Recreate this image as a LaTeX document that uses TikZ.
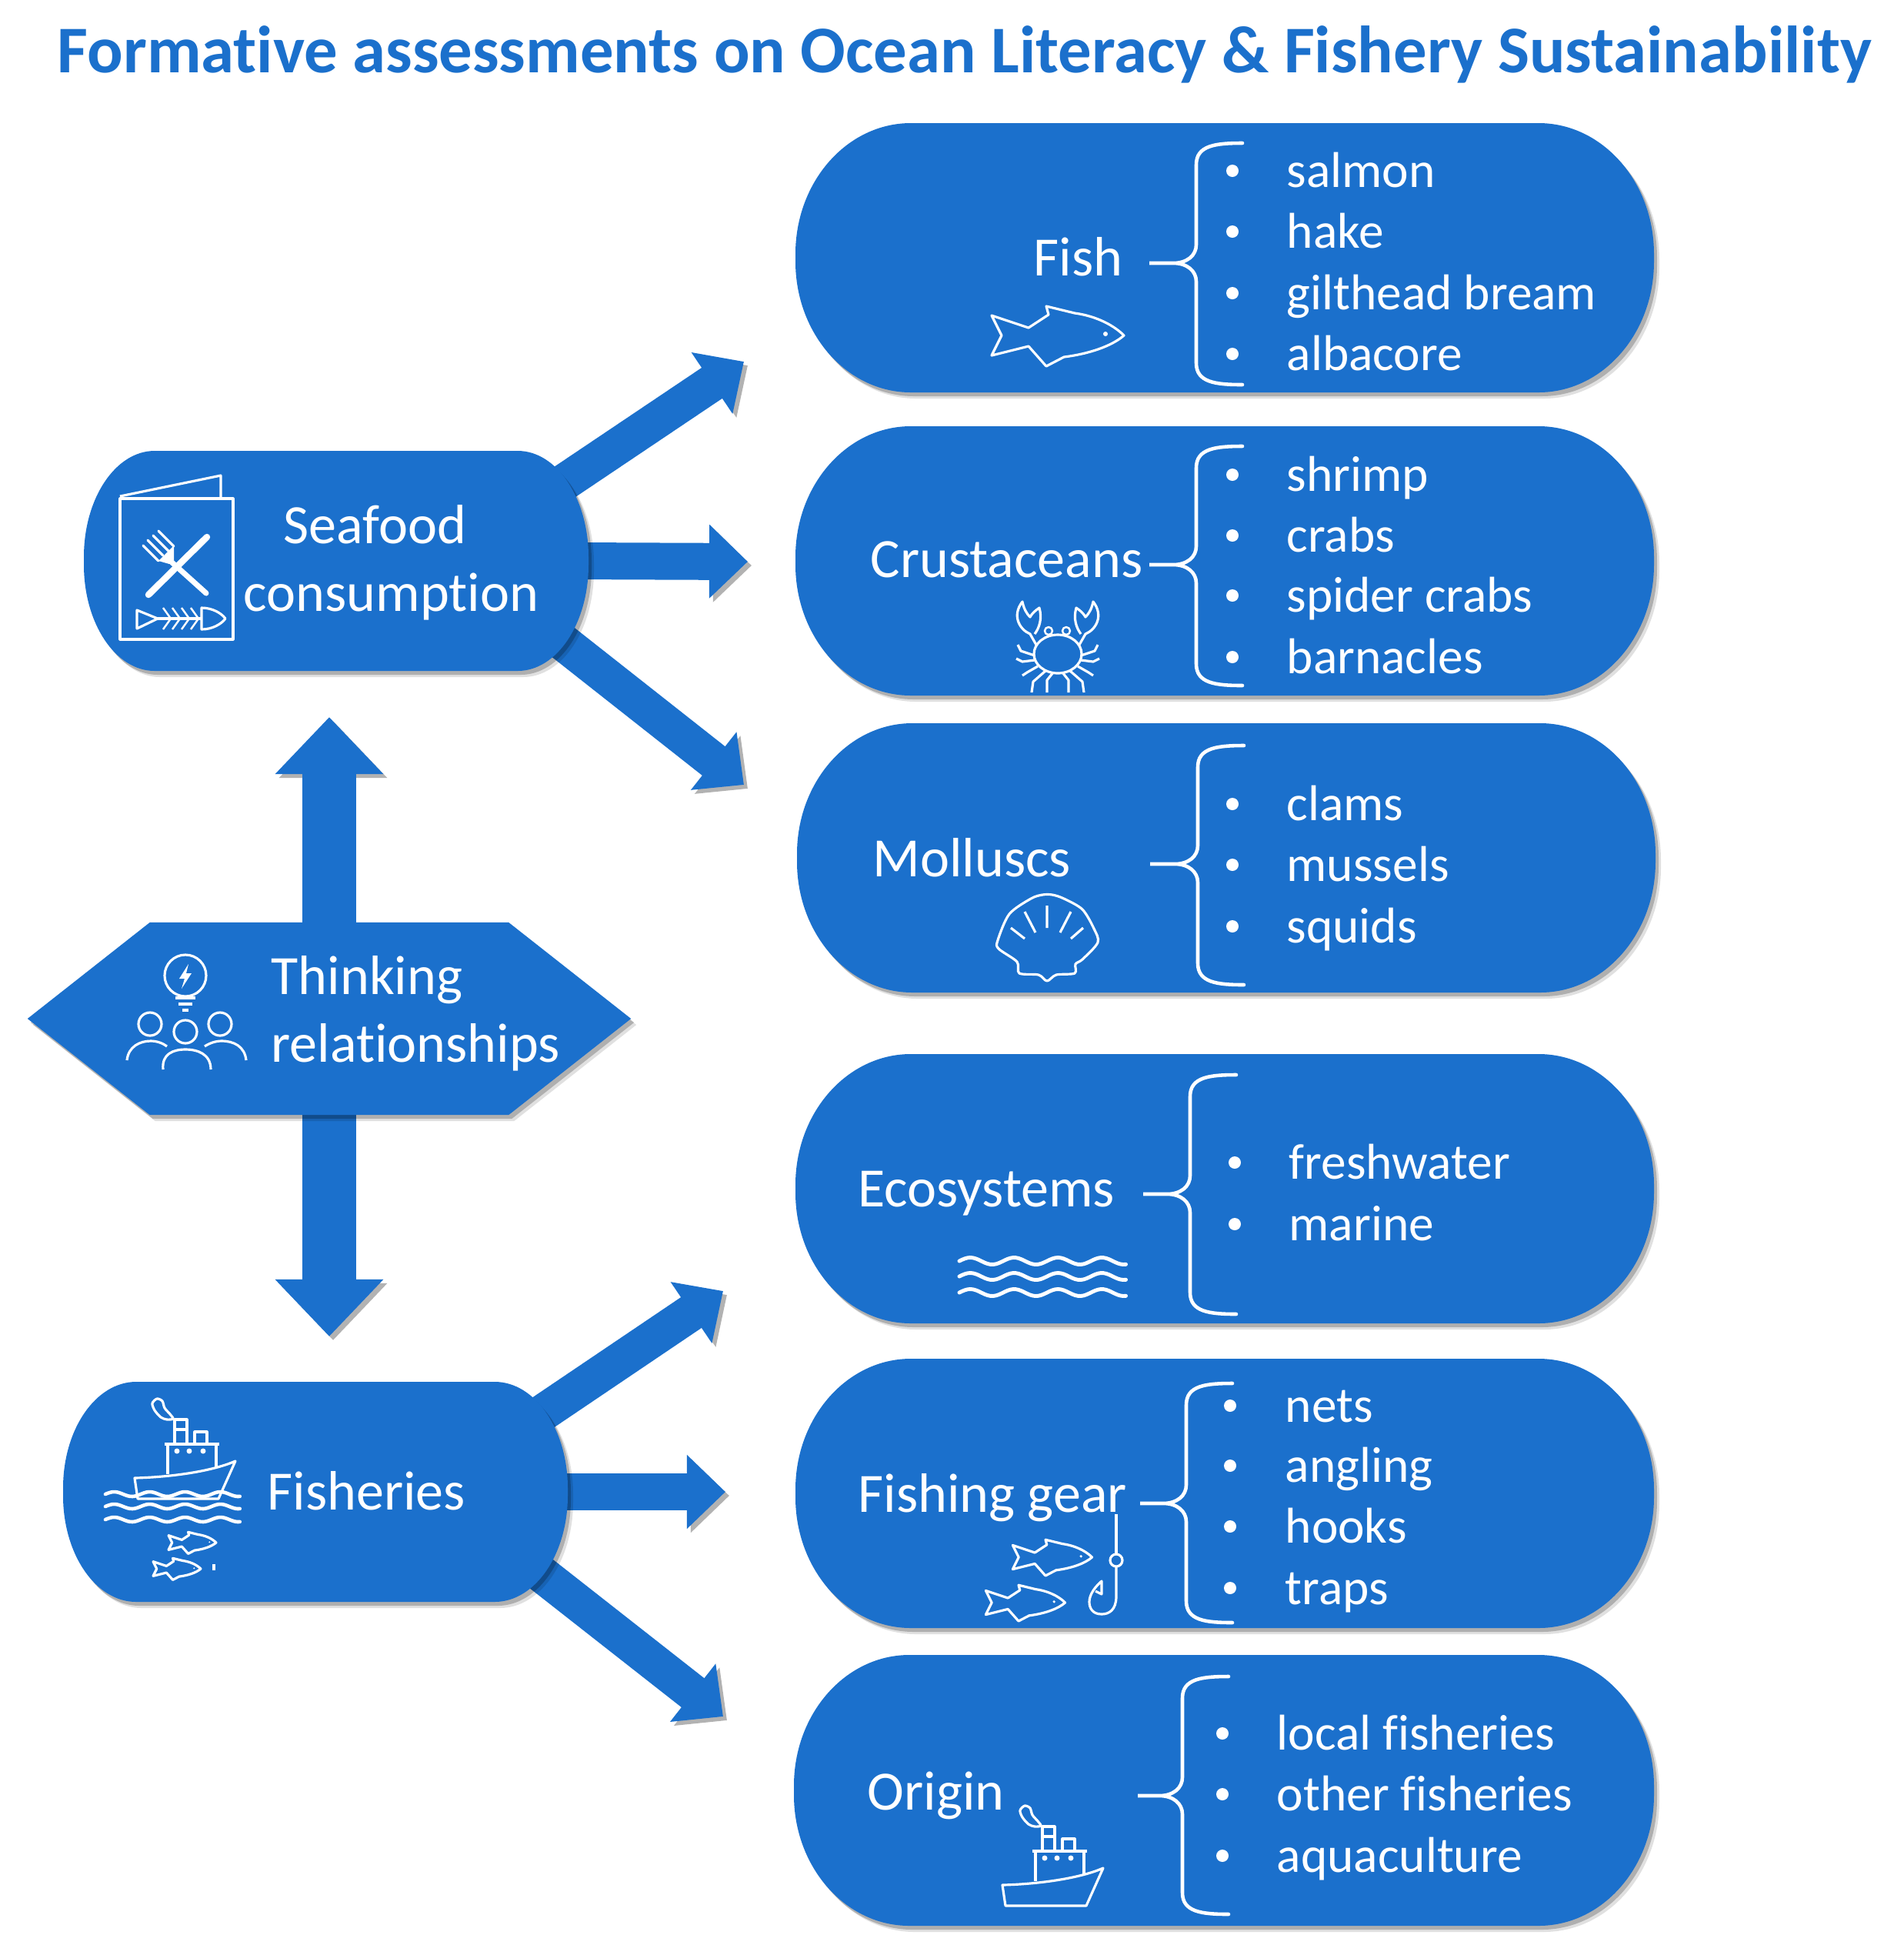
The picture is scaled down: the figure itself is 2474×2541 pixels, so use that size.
\documentclass[tikz,border=0pt]{standalone}
\usepackage{fontspec}
\setmainfont{Carlito}[Ligatures=NoCommon]
\usetikzlibrary{arrows.meta,shadows,shapes.symbols,backgrounds,calc}
\definecolor{seablue}{RGB}{27,112,204}
\tikzset{
    softshadow/.style={drop shadow={shadow xshift=.07cm,shadow yshift=-.08cm,fill=black,opacity=.12},
        drop shadow={shadow xshift=.04cm,shadow yshift=-.05cm,fill=black,opacity=.22}},
    blockfill/.style={fill=seablue,softshadow},
    blockframe/.style={rectangle,inner sep=0pt},
    hexagon/.style={signal,signal to=west and east,signal pointer angle=76.4,fill=seablue,softshadow,
        minimum width=7.84cm,minimum height=2.5cm,inner sep=0pt},
    blocktip/.style={line width=.48cm,draw=seablue,-{Triangle[length=.5cm,width=.93cm]},
        preaction={draw=black!30,transform canvas={xshift=.05cm,yshift=-.05cm}}},
    bigtip/.style={line width=.7cm,draw=seablue,-{Triangle[length=.74cm,width=1.36cm]},
        preaction={draw=black!30,transform canvas={xshift=.05cm,yshift=-.05cm}}},
    heading/.style={text=seablue,font=\fontsize{24.68}{30}\selectfont\bfseries,anchor=base west,inner sep=0pt},
    mainlabel/.style={text=white,font=\fontsize{20.5}{24.8}\selectfont,anchor=base west,inner sep=0pt,align=left},
    listitem/.style={text=white,font=\fontsize{18.6}{20}\selectfont,anchor=base west,inner sep=0pt},
    dotmark/.style={circle,fill=white,inner sep=0pt,minimum size=.16cm},
    bracket/.style={draw=white,line width=1.3pt,line cap=round},
    icon/.style={draw=white,line width=.9pt,line join=round},
    pics/fishicon/.style={code={
        \draw[icon] (-86,-26)--(-73,0)--(-86,26)--(-38,14)--(-15,40)--(8,28)
            .. controls (40,24) and (70,14) .. (86,0) .. controls (70,-16) and (45,-26) .. (22,-29)
            --(-15,-38)--(-12,-27)--(-38,-10)--cycle;
        \fill[white] (62,-2) circle (3);
    }},
    pics/shipicon/.style={code={
        \draw[icon] (-4,-27) .. controls (40,-28) and (95,-35) .. (127,-49) -- (105,0) -- (0,0) -- cycle;
        \draw[icon] (39,-32)--(39,-71)--(102,-71)--(102,-40) (35,-71)--(106,-71);
        \draw[icon] (48,-71)--(48,-103)--(64,-103)--(64,-71) (48,-90)--(64,-90);
        \draw[icon] (74,-71)--(74,-87)--(90,-87)--(90,-71);
        \draw[icon] plot[smooth cycle] coordinates {(25,-130) (32,-127) (35,-118) (42,-110) (46,-104) (38,-103) (30,-106) (22,-115) (19,-124)};
        \foreach \wx in {51,67,85} \fill[white] (\wx,-62) circle (3.5);
    }},
}
\newcommand{\listitems}[3]{%
    \foreach \ty/\itm in {#3}{
        \node[dotmark] (dot-\ty) at (#1,\ty) {};
        \node[listitem] (item-\ty) at (#2,{\ty+21}) {\itm};
    }}
% name, centre x, centre y, half width, half height, corner radii
\newcommand{\pillblock}[7]{%
    \pgfmathsetmacro{\xa}{#2-#4}\pgfmathsetmacro{\xb}{#2+#4}
    \pgfmathsetmacro{\ya}{#3-#5}\pgfmathsetmacro{\yb}{#3+#5}
    \pgfmathsetmacro{\kx}{.4477*#6}\pgfmathsetmacro{\ky}{.4477*#7}
    \node[blockframe,minimum width={#4*0.02cm},minimum height={#5*0.02cm}] (#1) at (#2,#3) {};
    \path[blockfill] ({\xa+#6},\ya) -- ({\xb-#6},\ya) .. controls ({\xb-\kx},\ya) and (\xb,{\ya+\ky}) .. (\xb,{\ya+#7})
        -- (\xb,{\yb-#7}) .. controls (\xb,{\yb-\ky}) and ({\xb-\kx},\yb) .. ({\xb-#6},\yb)
        -- ({\xa+#6},\yb) .. controls ({\xa+\kx},\yb) and (\xa,{\yb-\ky}) .. (\xa,{\yb-#7})
        -- (\xa,{\ya+#7}) .. controls (\xa,{\ya+\ky}) and ({\xa+\kx},\ya) .. ({\xa+#6},\ya) -- cycle;
}

\begin{document}
\begin{tikzpicture}[x=0.01cm,y=-0.01cm]
    \useasboundingbox (0,0) rectangle (2474,2541);
    \node[heading] (title) at (74,94) {Formative assessments on Ocean Literacy \& Fishery Sustainability};

    % right column
    \pillblock{fish}{1592}{335}{558}{175}{150}{170}
    \pillblock{crustaceans}{1592}{729}{558}{175}{150}{170}
    \pillblock{molluscs}{1594}{1115}{558}{175}{150}{170}
    \pillblock{ecosystems}{1592}{1545}{558}{175}{150}{170}
    \pillblock{gear}{1592}{1941}{558}{175}{150}{170}
    \pillblock{origin}{1591}{2327}{559}{176}{150}{170}

    % left column
    \pillblock{seafood}{437}{729}{328}{143}{92}{138}
    \pillblock{fisheries}{410}{1939}{328}{143}{95}{138}
    \node[hexagon] (thinking) at (428,1324) {};

    \coordinate (tipfish) at (967,470);
    \coordinate (tipcrust) at (972,730);
    \coordinate (tipmoll) at (967,1020);
    \coordinate (tipeco) at (940,1678);
    \coordinate (tipgear) at (943,1939);
    \coordinate (tiporigin) at (940,2231);
    \coordinate (tipseafood) at (428,932);
    \coordinate (tipfisheries) at (428,1737);

    \begin{scope}[on background layer]
        \draw[blocktip] ([xshift=-1cm,yshift=-.87cm]seafood.north east)--(tipfish);
        \draw[blocktip] ([xshift=-.2cm]seafood.east)--(tipcrust);
        \draw[blocktip] ([xshift=-1cm,yshift=.9cm]seafood.south east)--(tipmoll);
        \draw[blocktip] ([xshift=-1cm,yshift=-.86cm]fisheries.north east)--(tipeco);
        \draw[blocktip] ([xshift=-.2cm]fisheries.east)--(tipgear);
        \draw[blocktip] ([xshift=-1cm,yshift=.88cm]fisheries.south east)--(tiporigin);
        \draw[bigtip] ([yshift=-.2cm]thinking.north)--(tipseafood);
        \draw[bigtip] ([yshift=.2cm]thinking.south)--(tipfisheries);
    \end{scope}

    \node[mainlabel] (seafoodtext) at (316,794) {\hspace*{.52cm}Seafood\\consumption};
    \node[mainlabel] (thinkingtext) at (352,1380) {Thinking\\relationships};
    \node[mainlabel] (fisheriestext) at (347,1962) {Fisheries};
    \node[mainlabel] (fishtext) at (1343,358) {Fish};
    \node[mainlabel] (crusttext) at (1131,750) {Crustaceans};
    \node[mainlabel] (molltext) at (1134,1139) {Molluscs};
    \node[mainlabel] (ecotext) at (1115,1568) {Ecosystems};
    \node[mainlabel] (geartext) at (1115,1965) {Fishing gear};
    \node[mainlabel] (origintext) at (1127,2352) {Origin};

    \listitems{1602}{1672}{222/salmon,301/hake,381/gilthead bream,460/albacore}
    \listitems{1602}{1672}{617/shrimp,696/crabs,774/spider crabs,854/barnacles}
    \listitems{1602}{1672}{1045/clams,1124/mussels,1204/squids}
    \listitems{1605}{1675}{1511/freshwater,1591/marine}
    \listitems{1599}{1670}{1827/nets,1905/angling,1984/hooks,2064/traps}
    \listitems{1589}{1659}{2253/local fisheries,2332/other fisheries,2412/aquaculture}

    % x, top, middle, bottom, tip
    \foreach \bx/\bt/\bm/\bb/\bl in {1555/186/342/500/1494,1555/580/734/891/1494,1557/969/1123/1280/1495,
        1547/1397/1552/1708/1486,1542/1798/1954/2109/1482,1537/2179/2334/2488/1479}{
        \draw[bracket] ({\bx+60},\bt) .. controls ({\bx+25},\bt) and (\bx,{\bt+3}) .. (\bx,{\bt+28})
            -- (\bx,{\bm-24}) .. controls (\bx,{\bm-10}) and ({\bx-12},\bm) .. ({\bx-30},\bm) -- (\bl,\bm)
            -- ({\bx-30},\bm) .. controls ({\bx-12},\bm) and (\bx,{\bm+10}) .. (\bx,{\bm+24})
            -- (\bx,{\bb-28}) .. controls (\bx,{\bb-3}) and ({\bx+25},\bb) .. ({\bx+60},\bb);
    }

    % icons
    \pic at (1375,436) {fishicon};
    \pic[scale=.6] at (1368,2024) {fishicon};
    \pic[scale=.6] at (1333,2083) {fishicon};
    \pic[scale=.36] at (250,2005) {fishicon};
    \pic[scale=.36] at (230,2039) {fishicon};
    \draw[icon] (278,2033)--(278,2041);
    \pic at (1307,2477) {shipicon};
    \pic at (179,1948) {shipicon};

    % menu
    \draw[icon] (156,648) rectangle (303,831);
    \draw[icon] (156,645)--(287,618)--(287,648);
    \draw[icon,line width=2.4pt,line cap=round] (193,773)--(269,698);
    \draw[icon,line width=2pt,line cap=round] (268,771)--(218,726);
    \foreach \tx/\ty in {186/709,192/702,199/696,206/690}
        \draw[icon,line width=.9pt,line cap=round] (\tx,\ty)--({\tx+20},{\ty+20});
    \fill[white] (206,729)--(226,709)--(226,728)--(220,733)--cycle;
    \draw[icon] (178,793)--(205,804)--(178,817)--cycle;
    \draw[icon] (205,804)--(262,804);
    \foreach \cx in {212,224,236,248}
        \draw[icon,line width=.7pt] (\cx,790)--({\cx+10},804)--(\cx,818);
    \draw[icon] (262,790) .. controls (276,790) and (288,797) .. (293,804) .. controls (288,811) and (276,818) .. (262,818) -- cycle;

    % bulb and people
    \draw[icon] (241,1268) circle (27);
    \fill[white] (245,1253)--(233,1272)--(240,1272)--(236,1285)--(249,1265)--(242,1265)--cycle;
    \draw[icon] (228,1297)--(254,1297) (232,1305)--(250,1305) (237,1313)--(245,1313);
    \draw[icon] (195,1331) circle (15) (241,1341) circle (15) (286,1331) circle (15);
    \draw[icon] (212,1390) .. controls (210,1370) and (225,1364) .. (241,1364) .. controls (257,1364) and (274,1370) .. (274,1390);
    \draw[icon] (165,1378) .. controls (167,1360) and (182,1353) .. (196,1353) .. controls (204,1353) and (212,1356) .. (217,1360);
    \draw[icon] (320,1378) .. controls (318,1360) and (304,1353) .. (288,1353) .. controls (280,1353) and (272,1356) .. (266,1360);

    % crab
    \begin{scope}[shift={(1375,850)}]
        \draw[icon] (0,0) ellipse (31 and 25);
        \draw[icon,line width=.7pt] (-12,-30) circle (5) (11,-30) circle (5);
        \foreach \sx in {1,-1}{
            \begin{scope}[xscale=\sx]
                \draw[icon] (28,-12)--(36,-26) .. controls (50,-32) and (60,-50) .. (46,-68)
                    .. controls (44,-58) and (40,-52) .. (36,-48) .. controls (34,-52) and (30,-56) .. (24,-60)
                    .. controls (20,-46) and (24,-34) .. (30,-26);
                \draw[icon] (30,2)--(48,-4)--(52,-12) (30,8)--(46,10)--(54,6) (26,16)--(40,24)--(46,28);
                \draw[icon] (16,22)--(32,36)--(34,50) (6,24)--(14,34)--(14,50);
            \end{scope}
        }
    \end{scope}

    % shell
    \draw[icon] plot[smooth cycle,tension=.5] coordinates {(1361,1275) (1350,1267) (1325,1265) (1322,1250) (1298,1233) (1297,1222) (1312,1188) (1340,1168) (1355,1163) (1368,1163) (1383,1168) (1407,1182) (1422,1207) (1427,1225) (1407,1247) (1398,1253) (1397,1265) (1373,1267)};
    \draw[icon] (1314,1206)--(1332,1220) (1332,1185)--(1346,1212) (1361,1177)--(1361,1206) (1392,1185)--(1378,1212) (1408,1206)--(1392,1220);

    % waves
    \foreach \wy in {1639,1659,1680}
        \draw[icon,line width=1.4pt,line cap=round] plot[domain=0:3.8,samples=60,smooth] ({1247+57*\x},{\wy-4.5*sin(360*\x)});
    \foreach \wy in {1942,1958,1975}
        \draw[icon,line width=1.3pt,line cap=round] plot[domain=0:3.8,samples=60,smooth] ({137+46*\x},{\wy-3*sin(360*\x)});

    % hook
    \draw[icon] (1451,1968)--(1451,2020);
    \draw[icon] (1451,2028) circle (8);
    \draw[icon] (1451,2036)--(1451,2075) .. controls (1451,2092) and (1442,2098) .. (1432,2098)
        .. controls (1420,2098) and (1416,2090) .. (1416,2082) .. controls (1416,2072) and (1424,2062) .. (1432,2055)
        -- (1432,2072) -- (1424,2068);
\end{tikzpicture}
\end{document}
